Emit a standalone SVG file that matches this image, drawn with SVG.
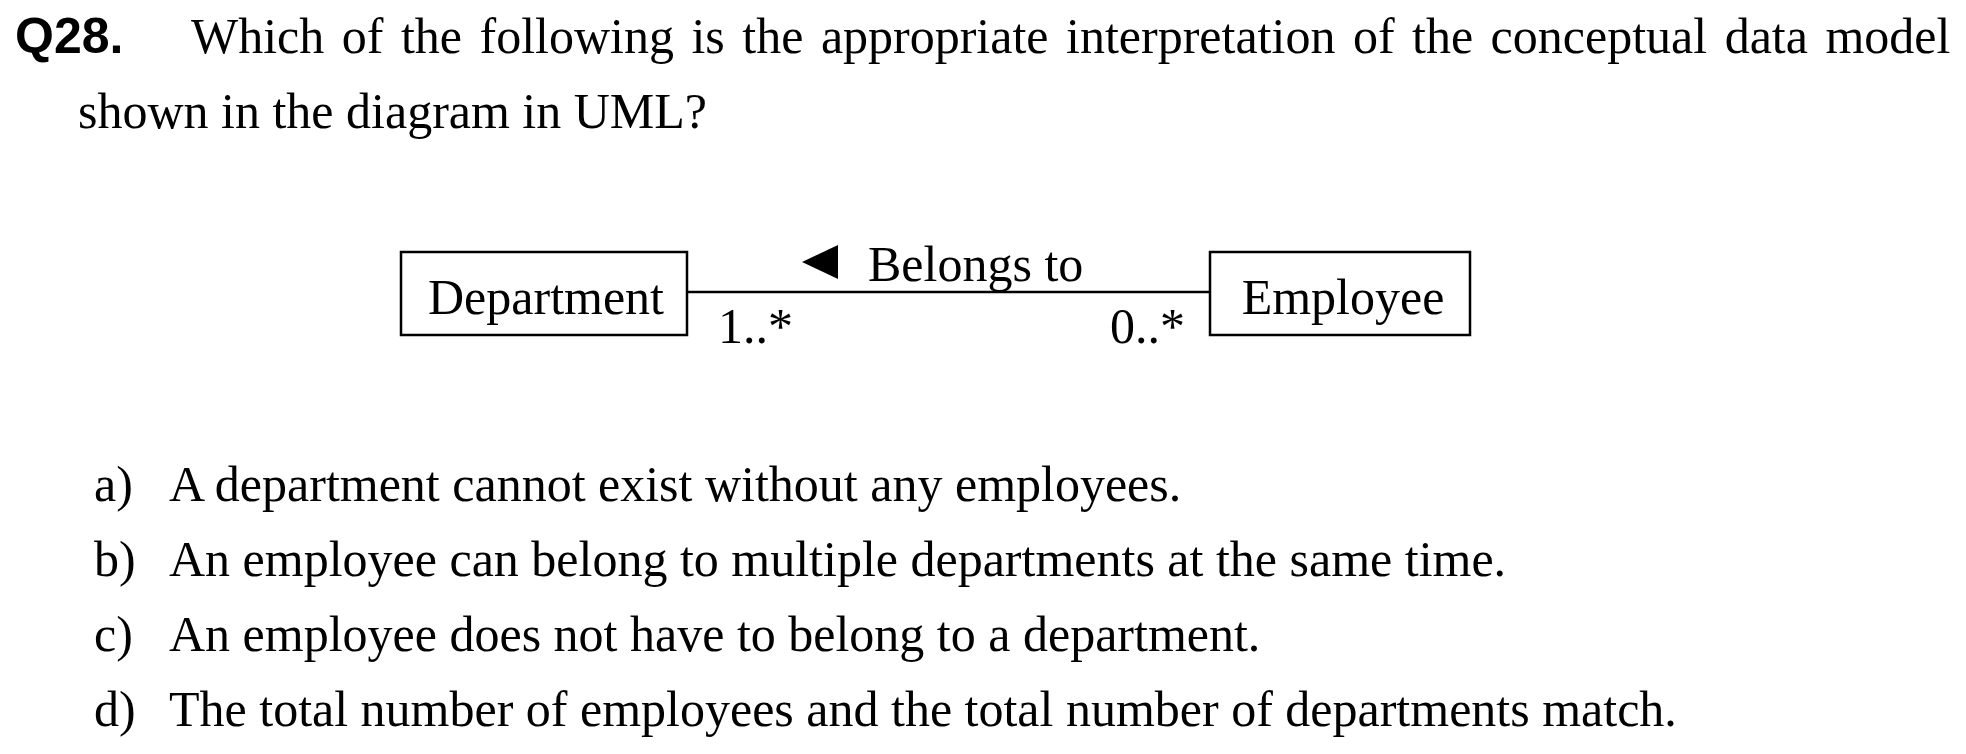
<svg xmlns="http://www.w3.org/2000/svg" width="1966" height="754" viewBox="0 0 1966 754">
<style>
.t{font-family:"Liberation Serif","Times New Roman",serif;font-size:50px;fill:#000}
.q{font-family:"Liberation Sans",Arial,sans-serif;font-size:50px;font-weight:bold;fill:#000}
.box{fill:#fff;stroke:#000;stroke-width:2.5}
.conn{stroke:#000;stroke-width:2.5;fill:none}
</style>
<rect width="1966" height="754" fill="#fff"/>
<g id="question">
<text class="q" x="15" y="53">Q28.</text>
<text class="t" x="191" y="53" word-spacing="5">Which of the following is the appropriate interpretation of the conceptual data model</text>
<text class="t" x="78" y="128">shown in the diagram in UML?</text>
</g>
<g id="department">
<rect class="box" x="401" y="252" width="286" height="83"/>
<text class="t" x="546" y="314" text-anchor="middle">Department</text>
</g>
<g id="employee">
<rect class="box" x="1210" y="252" width="260" height="83"/>
<text class="t" x="1343" y="314" text-anchor="middle">Employee</text>
</g>
<g id="connectors">
<line class="conn" x1="687" y1="292" x2="1210" y2="292"/>
<polygon points="802,262 838,245 838,279" fill="#000"/>
<text class="t" x="868" y="281">Belongs to</text>
<text class="t" x="718" y="343">1..*</text>
<text class="t" x="1110" y="343">0..*</text>
</g>
<g id="options">
<text class="t" x="94" y="501">a)</text><text class="t" x="169" y="501">A department cannot exist without any employees.</text>
<text class="t" x="94" y="576">b)</text><text class="t" x="169" y="576">An employee can belong to multiple departments at the same time.</text>
<text class="t" x="94" y="651">c)</text><text class="t" x="169" y="651">An employee does not have to belong to a department.</text>
<text class="t" x="94" y="726">d)</text><text class="t" x="169" y="726">The total number of employees and the total number of departments match.</text>
</g>
</svg>
